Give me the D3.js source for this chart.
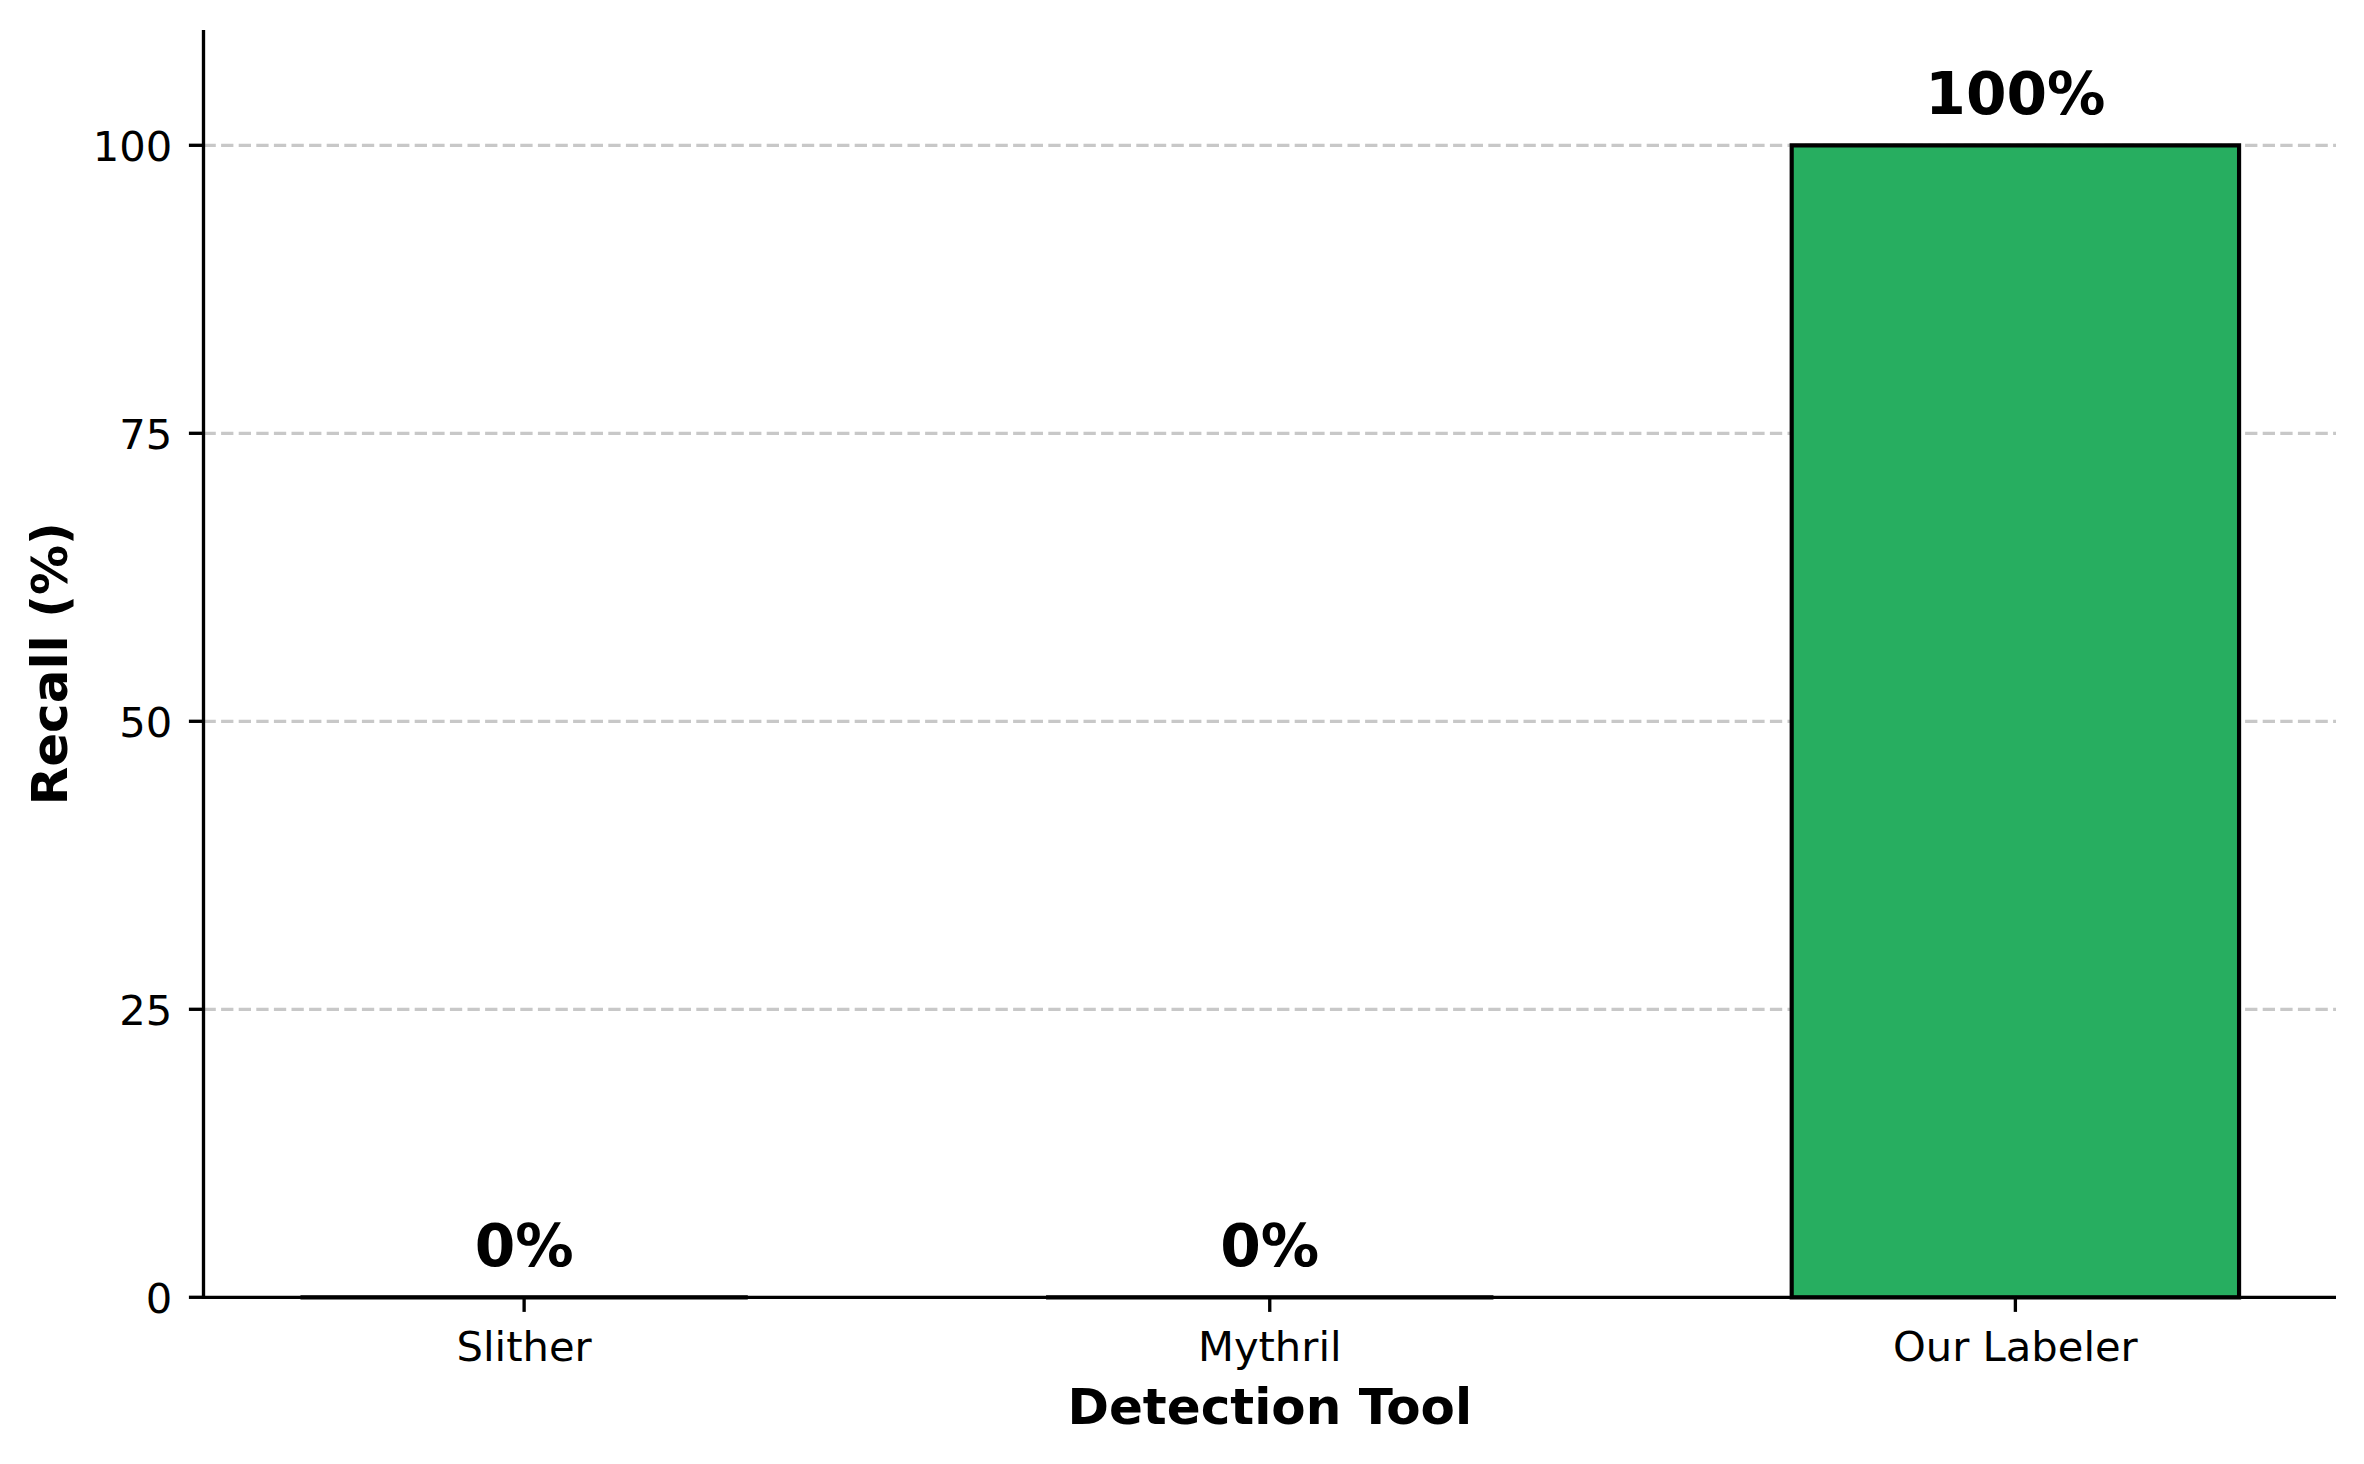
<!DOCTYPE html>
<html>
<head>
<meta charset="utf-8">
<script src="https://cdn.jsdelivr.net/npm/d3@7"></script>
<style>
  html, body { margin: 0; padding: 0; background: #fff; }
  svg { display: block; font-family: "DejaVu Sans", sans-serif; }
</style>
</head>
<body>
<svg id="chart" width="2364" height="1464"></svg>
<script>
const categories = ["Slither", "Mythril", "Our Labeler"];
const recall = [0, 0, 100];
const barLabels = ["0%", "0%", "100%"];
const yTicks = [0, 25, 50, 75, 100];
const xTitle = "Detection Tool";
const yTitle = "Recall (%)";

const W = 2364, H = 1464;
const plot = { left: 203.5, right: 2336, top: 30.1, bottom: 1297.3 };
const barWidth = 0.6;
const barColor = "#27ae60";

const svg = d3.select("#chart");

const x = d3.scaleLinear().domain([-0.43, 2.43]).range([plot.left, plot.right]);
const y = d3.scaleLinear().domain([0, 110]).range([plot.bottom, plot.top]);

// grid
svg.append("g").selectAll("line").data(yTicks.filter(d => d > 0)).join("line")
  .attr("x1", plot.left).attr("x2", plot.right)
  .attr("y1", d => y(d)).attr("y2", d => y(d))
  .attr("stroke", "#c8c8c8").attr("stroke-width", 3.33)
  .attr("stroke-dasharray", "12.3,5.3");

// bars (paths so zero-height bars still show their edge)
svg.append("g").selectAll("path").data(recall).join("path")
  .attr("d", (d, i) => {
    const x0 = x(i - barWidth / 2), x1 = x(i + barWidth / 2);
    const y0 = y(0), y1 = y(d);
    return `M${x0},${y0}H${x1}V${y1}H${x0}Z`;
  })
  .attr("fill", barColor)
  .attr("stroke", "#000").attr("stroke-width", 4.17)
  .attr("stroke-linejoin", "miter");

// bar labels
svg.append("g").selectAll("text").data(recall).join("text")
  .attr("x", (d, i) => x(i))
  .attr("y", d => y(d) - 31.5)
  .attr("text-anchor", "middle")
  .attr("font-size", 58.3).attr("font-weight", "bold")
  .attr("fill", "#000")
  .text((d, i) => barLabels[i]);

// spines
svg.append("line").attr("x1", plot.left).attr("x2", plot.left)
  .attr("y1", plot.top).attr("y2", plot.bottom + 1.66)
  .attr("stroke", "#000").attr("stroke-width", 3.33);
svg.append("line").attr("x1", plot.left - 1.66).attr("x2", plot.right)
  .attr("y1", plot.bottom).attr("y2", plot.bottom)
  .attr("stroke", "#000").attr("stroke-width", 3.33);

// y ticks
const yt = svg.append("g").selectAll("g").data(yTicks).join("g");
yt.append("line")
  .attr("x1", plot.left - 14.6).attr("x2", plot.left)
  .attr("y1", d => y(d)).attr("y2", d => y(d))
  .attr("stroke", "#000").attr("stroke-width", 3.33);
yt.append("text")
  .attr("x", plot.left - 14.6 - 14.6 - 2)
  .attr("y", d => y(d) + 15.2)
  .attr("text-anchor", "end")
  .attr("font-size", 41.67).attr("fill", "#000")
  .text(d => d);

// x ticks
const xt = svg.append("g").selectAll("g").data(categories).join("g");
xt.append("line")
  .attr("x1", (d, i) => x(i)).attr("x2", (d, i) => x(i))
  .attr("y1", plot.bottom).attr("y2", plot.bottom + 14.6)
  .attr("stroke", "#000").attr("stroke-width", 3.33);
xt.append("text")
  .attr("x", (d, i) => x(i))
  .attr("y", plot.bottom + 64)
  .attr("text-anchor", "middle")
  .attr("font-size", 41.67).attr("fill", "#000")
  .text(d => d);

// axis titles
svg.append("text")
  .attr("x", (plot.left + plot.right) / 2)
  .attr("y", 1424)
  .attr("text-anchor", "middle")
  .attr("font-size", 50).attr("font-weight", "bold")
  .text(xTitle);
svg.append("text")
  .attr("transform", `translate(67,${(plot.top + plot.bottom) / 2}) rotate(-90)`)
  .attr("text-anchor", "middle")
  .attr("font-size", 50).attr("font-weight", "bold")
  .text(yTitle);
</script>
</body>
</html>
